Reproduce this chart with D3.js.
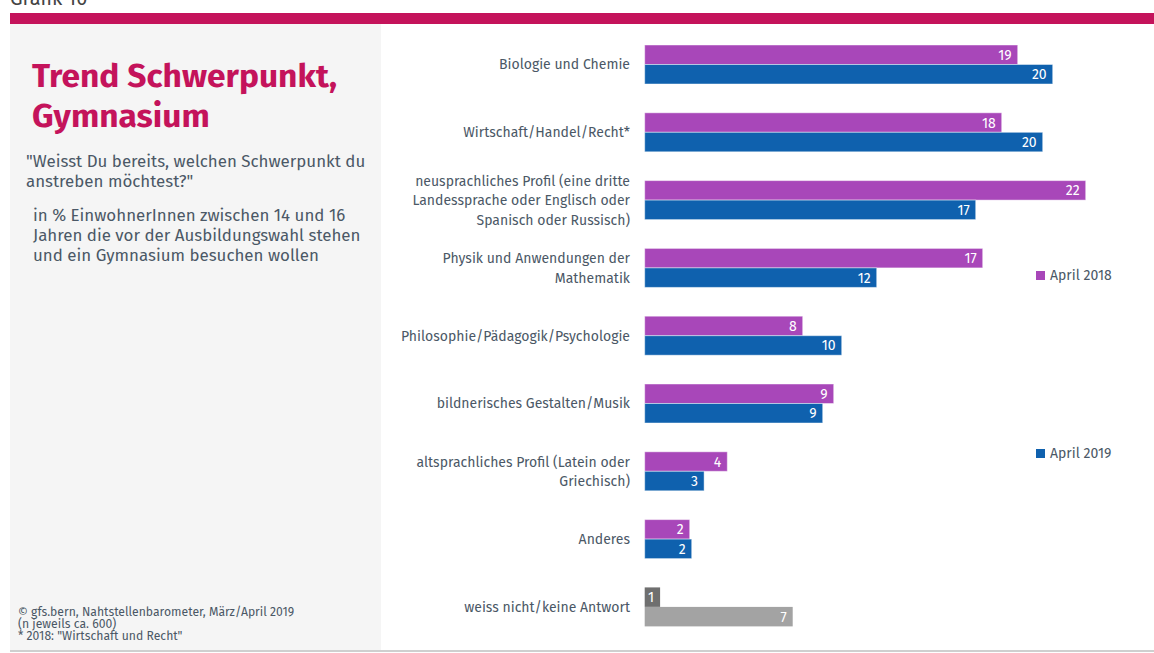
<!DOCTYPE html>
<html lang="de">
<head>
<meta charset="utf-8">
<script src="https://d3js.org/d3.v7.min.js"></script>
<style>
  body { margin: 0; background: #fff; }
  svg { display: block; font-family: "Fira Sans", "Open Sans", sans-serif; }
  .lbl { fill: #4b5866; font-size: 14px; }
  .val { fill: #fff; font-size: 14px; }
</style>
</head>
<body>
<svg id="chart" width="1154" height="653"></svg>
<script>
// categories (one entry per label line)
var categories = [
  ["Biologie und Chemie"],
  ["Wirtschaft/Handel/Recht*"],
  ["neusprachliches Profil (eine dritte", "Landessprache oder Englisch oder", "Spanisch oder Russisch)"],
  ["Physik und Anwendungen der", "Mathematik"],
  ["Philosophie/Pädagogik/Psychologie"],
  ["bildnerisches Gestalten/Musik"],
  ["altsprachliches Profil (Latein oder", "Griechisch)"],
  ["Anderes"],
  ["weiss nicht/keine Antwort"]
];
var series = ["April 2018", "April 2019"];
// bar lengths
var values2018 = [18.65, 17.85, 22.05, 16.9, 7.9, 9.45, 4.13, 2.25, 0.77];
var values2019 = [20.4, 19.9, 16.55, 11.6, 9.85, 8.9, 2.97, 2.35, 7.4];
// printed labels
var labels2018 = [19, 18, 22, 17, 8, 9, 4, 2, 1];
var labels2019 = [20, 20, 17, 12, 10, 9, 3, 2, 7];

var colors = {"April 2018": "#a847b9", "April 2019": "#0f61ae"};
var grayColors = {"April 2018": "#6f6f6f", "April 2019": "#a3a3a3"};

var svg = d3.select("#chart");

// header band, left panel, bottom rule
svg.append("text").attr("x", 10).attr("y", 5).attr("fill", "#444")
  .style("font-size", "20px").text("Grafik 10");
svg.append("rect").attr("x", 10).attr("y", 13).attr("width", 1144).attr("height", 11).attr("fill", "#c4135b");
svg.append("rect").attr("x", 10).attr("y", 24).attr("width", 371).attr("height", 626).attr("fill", "#f5f5f5");
svg.append("rect").attr("x", 10).attr("y", 650).attr("width", 1144).attr("height", 2).attr("fill", "#cfcfcf");

// title block
var title = svg.append("text").attr("fill", "#c4135b").style("font-size", "33.5px").style("font-weight", "700");
title.append("tspan").attr("x", 32).attr("y", 87).text("Trend Schwerpunkt,");
title.append("tspan").attr("x", 32).attr("y", 127).text("Gymnasium");

var q = svg.append("text").attr("fill", "#4b5866").style("font-size", "16.9px");
q.append("tspan").attr("x", 26).attr("y", 167).text("\"Weisst Du bereits, welchen Schwerpunkt du");
q.append("tspan").attr("x", 26).attr("y", 187).text("anstreben möchtest?\"");

var sub = svg.append("text").attr("fill", "#4b5866").style("font-size", "16.9px");
["in % EinwohnerInnen zwischen 14 und 16",
 "Jahren die vor der Ausbildungswahl stehen",
 "und ein Gymnasium besuchen wollen"].forEach(function(t, i) {
  sub.append("tspan").attr("x", 33).attr("y", 221 + i * 20).text(t);
});

var foot = svg.append("text").attr("fill", "#4b5866").style("font-size", "12.2px");
["©  gfs.bern, Nahtstellenbarometer, März/April 2019",
 "(n jeweils ca. 600)",
 "* 2018: \"Wirtschaft und Recht\""].forEach(function(t, i) {
  foot.append("tspan").attr("x", 18).attr("y", 616 + i * 11.8).text(t);
});

// scales
var idx = d3.range(categories.length);
var y = d3.scaleBand().domain(idx).range([30.6, 640.8]).paddingInner(0.425).paddingOuter(0.2125);
var ySub = d3.scaleBand().domain(series).range([0, y.bandwidth()]);
var x = d3.scaleLinear().domain([0, 22]).range([644.7, 1084.7]);

var rows = idx.map(function(i) {
  return {
    i: i,
    bars: [
      {s: series[0], v: values2018[i], l: labels2018[i]},
      {s: series[1], v: values2019[i], l: labels2019[i]}
    ]
  };
});

var g = svg.selectAll(".row").data(rows).enter().append("g")
  .attr("class", "row")
  .attr("transform", function(d) { return "translate(0," + y(d.i) + ")"; });

g.selectAll("rect").data(function(d) {
    return d.bars.map(function(b) { b.last = d.i === categories.length - 1; return b; });
  })
  .enter().append("rect")
  .attr("x", x(0))
  .attr("y", function(b) { return ySub(b.s); })
  .attr("width", function(b) { return x(b.v) - x(0); })
  .attr("height", ySub.bandwidth())
  .attr("fill", function(b) { return b.last ? grayColors[b.s] : colors[b.s]; })
  .attr("stroke", function(b) { return b.last ? "none" : "rgba(255,255,255,0.45)"; })
  .attr("stroke-width", 1);

g.selectAll(".val").data(function(d) { return d.bars; })
  .enter().append("text")
  .attr("class", "val")
  .attr("x", function(b) { return x(b.v) - 6; })
  .attr("y", function(b) { return ySub(b.s) + ySub.bandwidth() / 2 + 5; })
  .attr("text-anchor", "end")
  .text(function(b) { return b.l; });

// category labels
g.append("text")
  .attr("class", "lbl")
  .attr("text-anchor", "end")
  .each(function(d) {
    var lines = categories[d.i];
    var mid = y.bandwidth() / 2;
    var lh = 19.5;
    var self = d3.select(this);
    lines.forEach(function(t, k) {
      self.append("tspan")
        .attr("x", 630)
        .attr("y", mid + 5 + (k - (lines.length - 1) / 2) * lh)
        .text(t);
    });
  });

// legend
var leg = svg.selectAll(".leg").data(series).enter().append("g")
  .attr("class", "leg")
  .attr("transform", function(d, i) { return "translate(1036," + (i ? 449 : 271) + ")"; });
leg.append("rect").attr("width", 9).attr("height", 9).attr("fill", function(d) { return colors[d]; });
leg.append("text").attr("class", "lbl").attr("x", 14).attr("y", 9).text(function(d) { return d; });
</script>
</body>
</html>
